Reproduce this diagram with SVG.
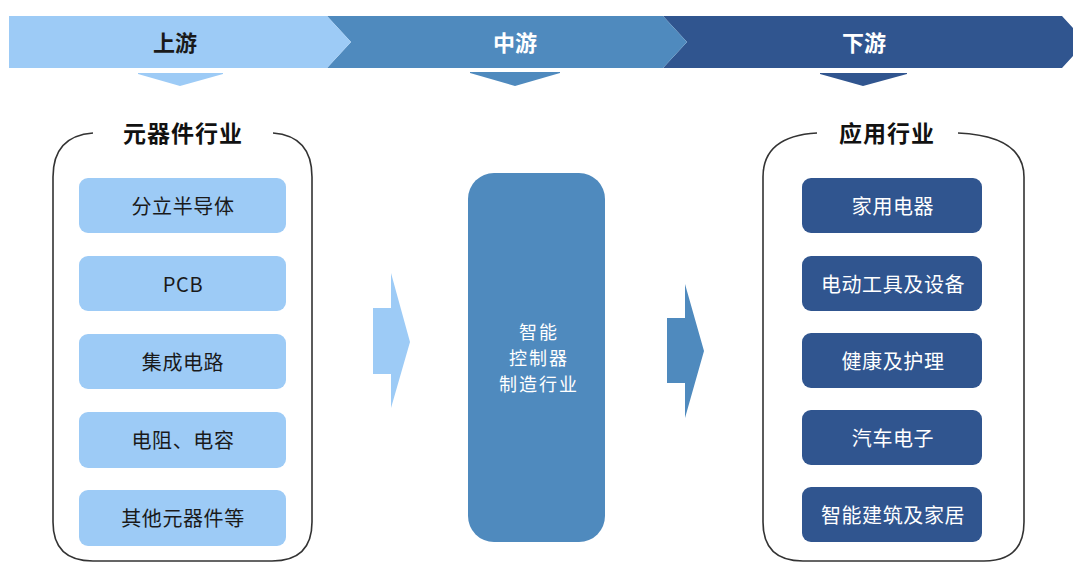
<svg xmlns="http://www.w3.org/2000/svg" width="1073" height="563" viewBox="0 0 1073 563">
<style>
.bg{fill:#ffffff}
.lt{fill:#9DCBF6}
.md{fill:#4F8ABE}
.dk{fill:#30558F}
.hdr{font-family:"Noto Sans CJK SC","Liberation Sans",sans-serif;font-size:22px;font-weight:bold;text-anchor:middle}
.ttl{font-family:"Noto Sans CJK SC","Liberation Sans",sans-serif;font-size:23px;font-weight:bold;text-anchor:middle;fill:#111;letter-spacing:1px}
.lbl{font-family:"Noto Sans CJK SC","Liberation Sans",sans-serif;font-size:20px;text-anchor:middle;letter-spacing:0.6px}
.mid{font-family:"Noto Sans CJK SC","Liberation Sans",sans-serif;font-size:18px;text-anchor:middle;letter-spacing:2px;fill:#ffffff}
.dark{fill:#1a1a1a}
.white{fill:#ffffff}
.frame{fill:none;stroke:#333;stroke-width:1.6}
</style>
<rect class="bg" x="0" y="0" width="1073" height="563"/>
<g id="banner">
  <polygon class="dk" points="663,16 1062,16 1086,42 1062,68 663,68 687,42"/>
  <polygon class="md" points="327,16 663,16 687,42 663,68 327,68 351,42"/>
  <polygon class="lt" points="9,16 327,16 351,42 327,68 9,68"/>
  <text class="hdr dark" x="175" y="51">上游</text>
  <text class="hdr white" x="515" y="51">中游</text>
  <text class="hdr white" x="864" y="51">下游</text>
  <polygon class="lt" points="138,73 223,73 223,74 180,86 138,74"/>
  <polygon class="md" points="470,72 560,72 560,73 515,86 470,73"/>
  <polygon class="dk" points="820,73 907,73 907,74 863,86 820,74"/>
</g>
<g id="upstream">
  <path class="frame" d="M93,133 Q53,136 53,177 L53,522 Q53,561 93,561 L272,561 Q312,561 312,522 L312,177 Q312,136 273,133"/>
  <text class="ttl" x="183" y="142">元器件行业</text>
  <g id="up1"><rect class="lt" x="79" y="178" width="207" height="55" rx="9"/><text class="lbl dark" x="183" y="214">分立半导体</text></g>
  <g id="up2"><rect class="lt" x="79" y="256" width="207" height="55" rx="9"/><text class="lbl dark" x="183" y="292">PCB</text></g>
  <g id="up3"><rect class="lt" x="79" y="334" width="207" height="55" rx="9"/><text class="lbl dark" x="183" y="370">集成电路</text></g>
  <g id="up4"><rect class="lt" x="79" y="412" width="207" height="56" rx="9"/><text class="lbl dark" x="183" y="448">电阻、电容</text></g>
  <g id="up5"><rect class="lt" x="79" y="490" width="207" height="56" rx="9"/><text class="lbl dark" x="183" y="526">其他元器件等</text></g>
</g>
<g id="midstream">
  <rect class="md" x="468" y="173" width="137" height="369" rx="26"/>
  <text class="mid" x="539" y="339">智能</text>
  <text class="mid" x="539" y="365">控制器</text>
  <text class="mid" x="539" y="391">制造行业</text>
</g>
<g id="downstream">
  <path class="frame" d="M817,133 Q763,136 763,177 L763,522 Q763,561 803,561 L984,561 Q1024,561 1024,522 L1024,177 Q1024,136 958,133"/>
  <text class="ttl" x="887" y="142">应用行业</text>
  <g id="dn1"><rect class="dk" x="802" y="178" width="180" height="55" rx="9"/><text class="lbl white" x="893" y="214">家用电器</text></g>
  <g id="dn2"><rect class="dk" x="802" y="256" width="180" height="55" rx="9"/><text class="lbl white" x="893" y="292">电动工具及设备</text></g>
  <g id="dn3"><rect class="dk" x="802" y="333" width="180" height="55" rx="9"/><text class="lbl white" x="893" y="369">健康及护理</text></g>
  <g id="dn4"><rect class="dk" x="802" y="410" width="180" height="55" rx="9"/><text class="lbl white" x="893" y="446">汽车电子</text></g>
  <g id="dn5"><rect class="dk" x="802" y="487" width="180" height="55" rx="9"/><text class="lbl white" x="893" y="523">智能建筑及家居</text></g>
</g>
<g id="connectors">
  <polygon class="lt" points="373,308 391,308 391,273 410,342 391,408 391,374 373,374"/>
  <polygon class="md" points="667,318 685,318 685,284 704,351 685,418 685,383 667,383"/>
</g>
</svg>
